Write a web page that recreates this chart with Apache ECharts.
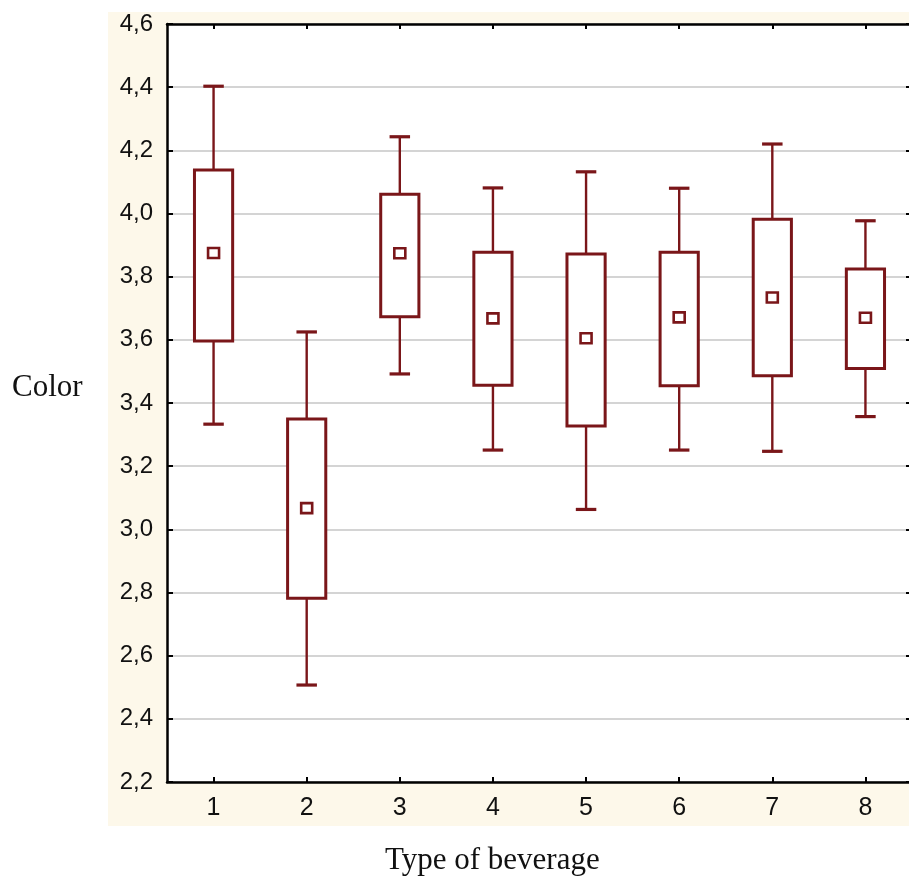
<!DOCTYPE html>
<html>
<head>
<meta charset="utf-8">
<script src="https://cdn.jsdelivr.net/npm/echarts@6/dist/echarts.min.js"></script>
<style>
  html, body { margin: 0; padding: 0; background: #ffffff; overflow: hidden; }
  #chart { width: 916px; height: 885px; }
</style>
</head>
<body>
<div id="chart"></div>
<script>
// ---- data ----
var categories = ['1', '2', '3', '4', '5', '6', '7', '8'];
var minVals  = [3.333, 2.507, 3.492, 3.251, 3.063, 3.251, 3.247, 3.357];
var q1Vals   = [3.596, 2.782, 3.673, 3.456, 3.327, 3.455, 3.486, 3.509];
var meanVals = [3.875, 3.067, 3.874, 3.668, 3.605, 3.671, 3.734, 3.670];
var q3Vals   = [4.138, 3.349, 4.061, 3.877, 3.872, 3.877, 3.982, 3.824];
var maxVals  = [4.403, 3.625, 4.243, 4.081, 4.132, 4.080, 4.220, 3.977];
var yTicks = { min: 2.2, max: 4.6, interval: 0.2 };
var xTitle = 'Type of beverage';
var yTitle = 'Color';

var seriesData = categories.map(function (c, i) {
  return [i, minVals[i], q1Vals[i], q3Vals[i], maxVals[i], meanVals[i]];
});

var RED = '#7a1619';

function renderBox(params, api) {
  var idx = api.value(0);
  var pMin = api.coord([idx, api.value(1)]);
  var pQ1 = api.coord([idx, api.value(2)]);
  var pQ3 = api.coord([idx, api.value(3)]);
  var pMax = api.coord([idx, api.value(4)]);
  var pMean = api.coord([idx, api.value(5)]);
  var band = api.size([1, 0])[0];
  var bw = band * 0.41;
  var cw = band * 0.22;
  var cx = pQ1[0];
  return {
    type: 'group',
    children: [
      { type: 'line', shape: { x1: cx, y1: pMax[1], x2: cx, y2: pQ3[1] },
        style: { stroke: RED, lineWidth: 2.4 } },
      { type: 'line', shape: { x1: cx, y1: pQ1[1], x2: cx, y2: pMin[1] },
        style: { stroke: RED, lineWidth: 2.4 } },
      { type: 'line', shape: { x1: cx - cw / 2, y1: pMax[1], x2: cx + cw / 2, y2: pMax[1] },
        style: { stroke: RED, lineWidth: 3.2 } },
      { type: 'line', shape: { x1: cx - cw / 2, y1: pMin[1], x2: cx + cw / 2, y2: pMin[1] },
        style: { stroke: RED, lineWidth: 3.2 } },
      { type: 'rect', shape: { x: cx - bw / 2, y: pQ3[1], width: bw, height: pQ1[1] - pQ3[1] },
        style: { stroke: RED, lineWidth: 3, fill: '#ffffff' } },
      { type: 'rect', shape: { x: cx - 5.5, y: pMean[1] - 5, width: 11, height: 10 },
        style: { stroke: RED, lineWidth: 2.6, fill: '#ffffff' } }
    ]
  };
}

var axisFont = 'Liberation Sans, Arial, sans-serif';
var chart = echarts.init(document.getElementById('chart'), null, { renderer: 'canvas' });
chart.setOption({
  backgroundColor: '#ffffff',
  animation: false,
  graphic: [
    { type: 'rect', z: -100, silent: true,
      shape: { x: 108, y: 12, width: 808, height: 814 },
      style: { fill: '#fdf8ea' } },
    { type: 'text', left: 12, top: 372,
      style: { text: yTitle, font: '31px "Liberation Serif", "Times New Roman", serif', fill: '#111' } },
    { type: 'text', left: 385, top: 845,
      style: { text: xTitle, font: '31px "Liberation Serif", "Times New Roman", serif', fill: '#111' } }
  ],
  grid: {
    left: 167, top: 24, width: 745, height: 758,
    show: true, backgroundColor: '#ffffff', borderWidth: 0
  },
  xAxis: [
    {
      type: 'category', data: categories, position: 'bottom',
      axisLine: { lineStyle: { color: '#000', width: 2.5 } },
      axisTick: { show: true, inside: true, length: 5, alignWithLabel: true, lineStyle: { color: '#000', width: 2 } },
      axisLabel: { fontFamily: axisFont, fontSize: 25, color: '#111', margin: 14 },
      splitLine: { show: false }
    },
    {
      type: 'category', data: categories, position: 'top',
      axisLine: { lineStyle: { color: '#000', width: 2.5 } },
      axisTick: { show: true, inside: true, length: 5, alignWithLabel: true, lineStyle: { color: '#000', width: 2 } },
      axisLabel: { show: false },
      splitLine: { show: false }
    }
  ],
  yAxis: [
    {
      type: 'value', min: yTicks.min, max: yTicks.max, interval: yTicks.interval, position: 'left',
      axisLine: { show: true, lineStyle: { color: '#000', width: 2.5 } },
      axisTick: { show: true, inside: true, length: 6, lineStyle: { color: '#000', width: 2 } },
      axisLabel: {
        fontFamily: axisFont, fontSize: 24, color: '#111', margin: 14,
        formatter: function (v) { return v.toFixed(1).replace('.', ','); }
      },
      splitLine: { show: true, lineStyle: { color: '#d4d4d4', width: 2 } }
    },
    {
      type: 'value', min: yTicks.min, max: yTicks.max, interval: yTicks.interval, position: 'right',
      axisLine: { show: true, lineStyle: { color: '#000', width: 2.5 } },
      axisTick: { show: true, inside: true, length: 6, lineStyle: { color: '#000', width: 2 } },
      axisLabel: { show: false },
      splitLine: { show: false }
    }
  ],
  series: [
    {
      type: 'custom',
      xAxisIndex: 0, yAxisIndex: 0,
      renderItem: renderBox,
      encode: { x: 0, y: [1, 2, 3, 4, 5] },
      data: seriesData,
      z: 5
    }
  ]
});
</script>
</body>
</html>
